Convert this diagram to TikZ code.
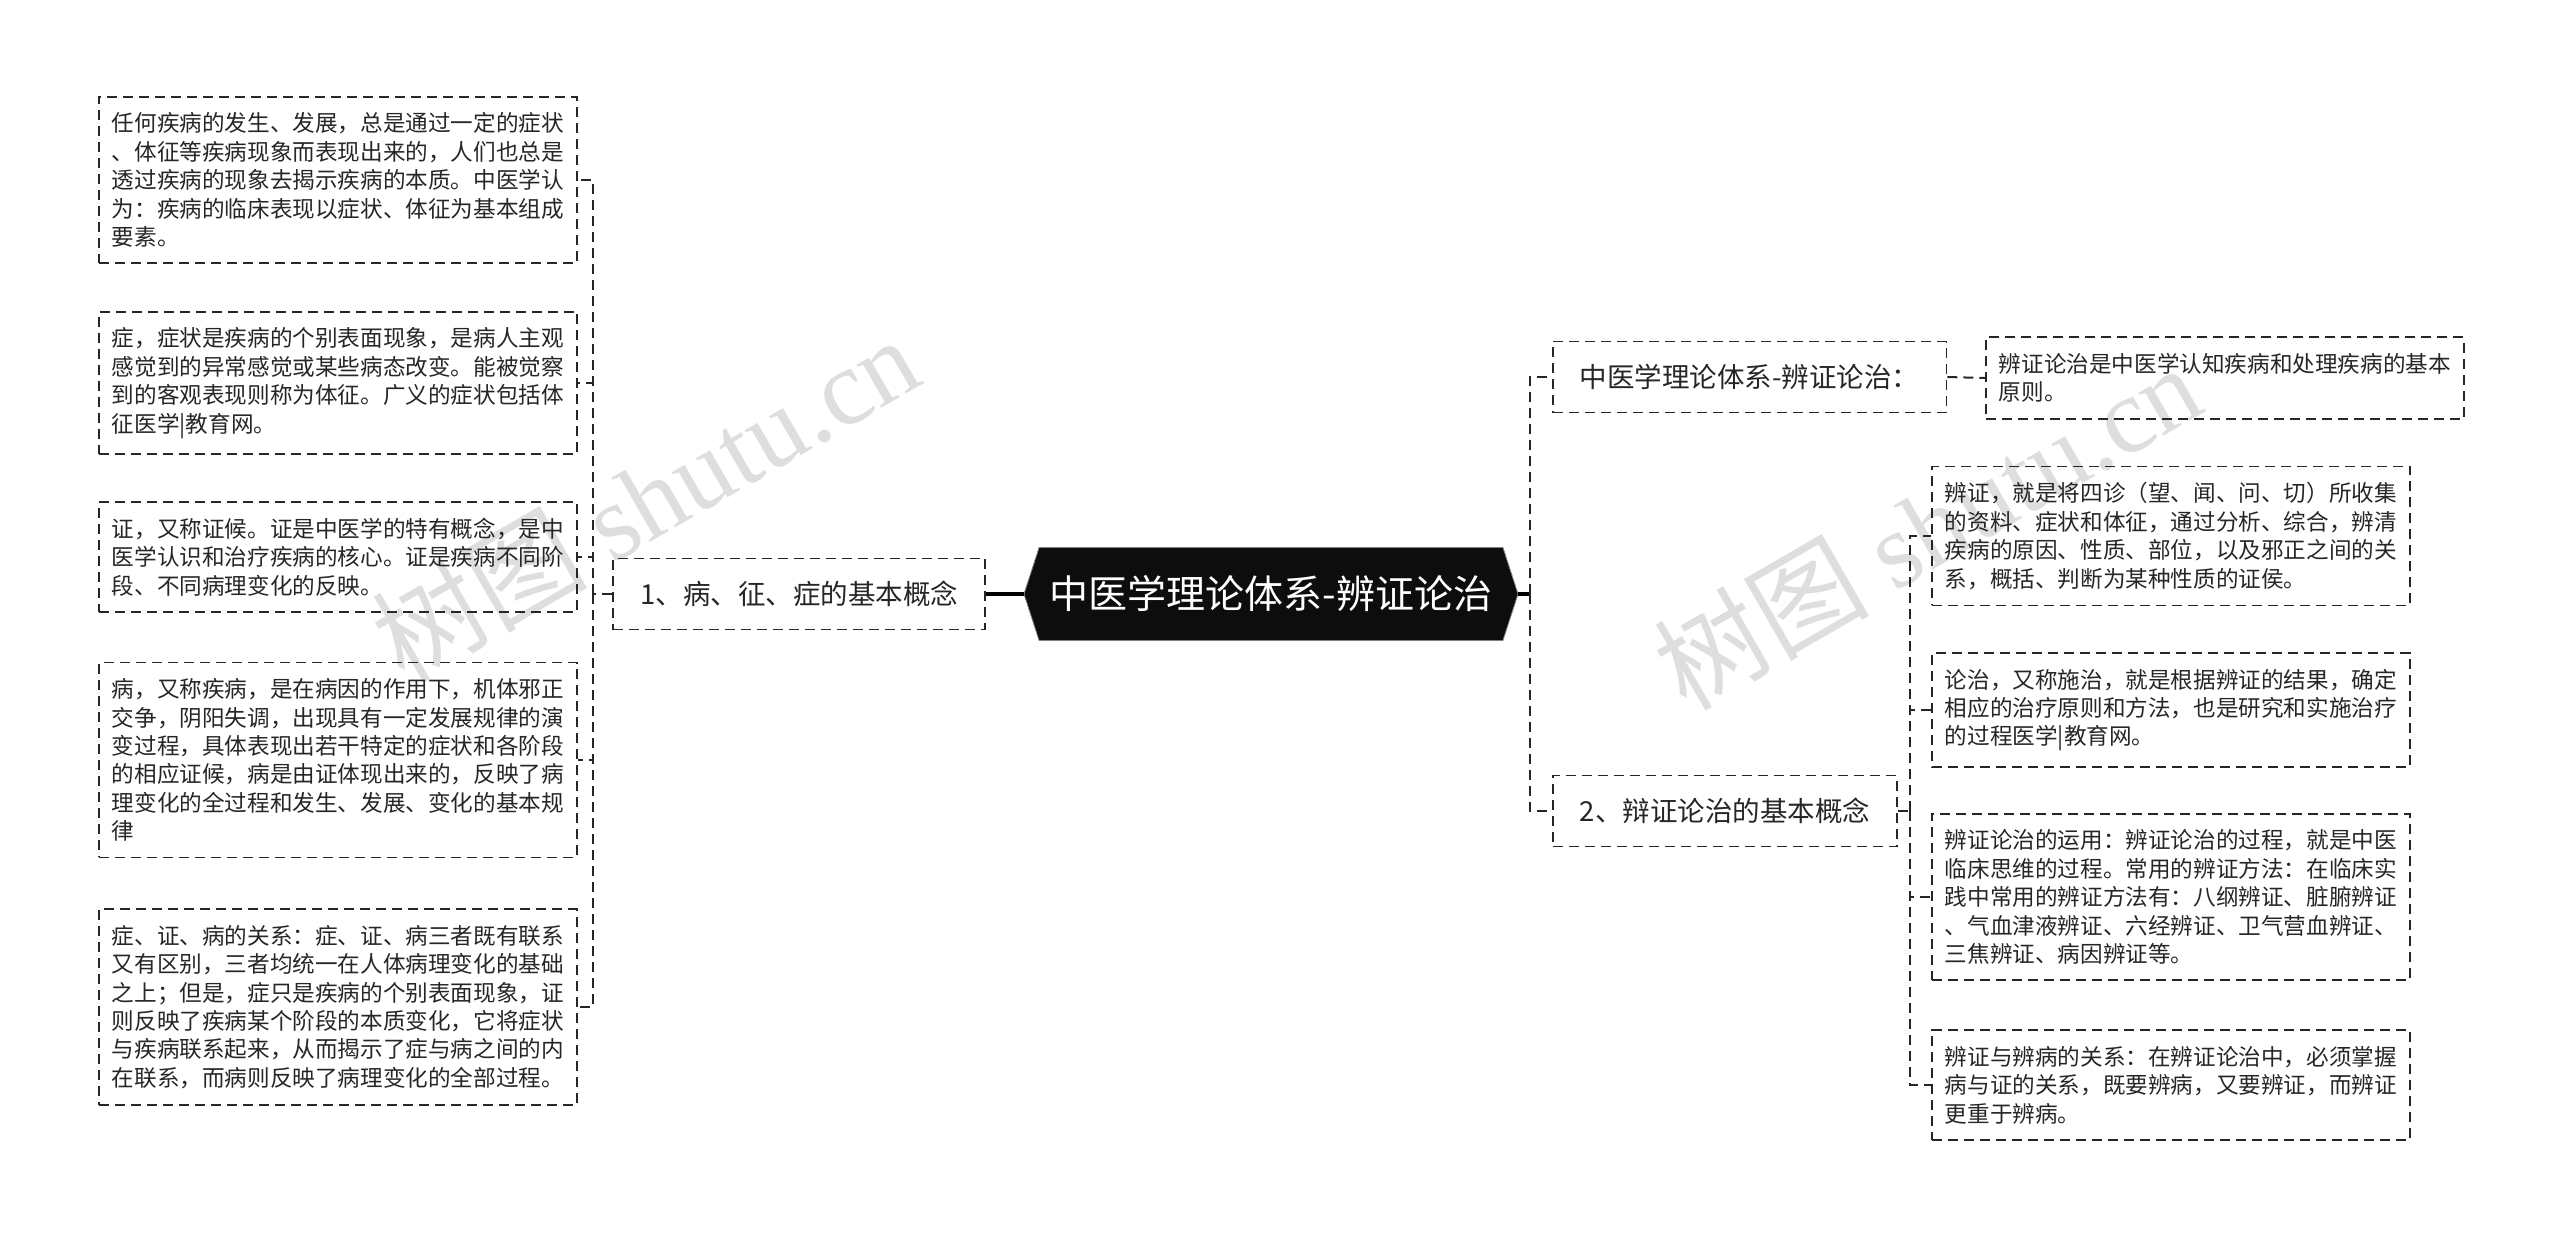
\documentclass[tikz,border=0pt]{standalone}
\usepackage{fontspec}
\setmainfont{Noto Sans CJK SC}
\newfontfamily\wmserif{Liberation Serif}
\usetikzlibrary{shapes.symbols,positioning}

\begin{document}
\begin{tikzpicture}
[x=0.5pt,y=-0.5pt,
 dashpat/.style={dash pattern=on 5pt off 3pt},
 root/.style={signal,signal to=west and east,signal pointer angle=144,fill=black!95,draw=black!50,text=white,minimum width=247pt,minimum height=46.5pt,inner sep=0pt,font=\fontsize{19.5}{23}\selectfont},
 topic/.style={draw=black!85,dashpat,line width=0.9pt,minimum height=35.5pt,inner xsep=13.5pt,text=black!85,font=\fontsize{13.75}{16}\selectfont},
 leaf/.style={draw=black!85,dashpat,line width=0.9pt,text width=226pt,align=left,inner xsep=6.5pt,inner ysep=8pt,text=black!85,font=\fontsize{11.3}{14.2}\selectfont},
 link/.style={draw=black!85,dashpat,line width=1pt},
 trunk/.style={draw=black,line width=1.6pt},
 wmtext/.style={text=black!13,font=\fontsize{54}{60}\selectfont,rotate=30}]
\useasboundingbox (0,0) rectangle (2560,1239);

\node[wmtext] (wm1) at (645,498) {树图 {\wmserif shutu.cn}};
\node[wmtext] (wm2) at (1927,526) {树图 {\wmserif shutu.cn}};

\node[root] (root) at (1271,594) {中医学理论体系-辨证论治};

\node[topic,anchor=east] (topicL) at (986,594) {1、病、征、症的基本概念};
\node[topic,anchor=west] (topicA) at (1552,377) {中医学理论体系-辨证论治：};
\node[topic,anchor=west] (topicB) at (1552,811) {2、辩证论治的基本概念};

\node[leaf,anchor=west] (l1) at (98,180) {任何疾病的发生、发展，总是通过一定的症状\\、体征等疾病现象而表现出来的，人们也总是\\透过疾病的现象去揭示疾病的本质。中医学认\\为：疾病的临床表现以症状、体征为基本组成\\要素。};
\node[leaf,anchor=west] (l2) at (98,383) {症，症状是疾病的个别表面现象，是病人主观\\感觉到的异常感觉或某些病态改变。能被觉察\\到的客观表现则称为体征。广义的症状包括体\\征医学|教育网。};
\node[leaf,anchor=west] (l3) at (98,557) {证，又称证候。证是中医学的特有概念，是中\\医学认识和治疗疾病的核心。证是疾病不同阶\\段、不同病理变化的反映。};
\node[leaf,anchor=west] (l4) at (98,760) {病，又称疾病，是在病因的作用下，机体邪正\\交争，阴阳失调，出现具有一定发展规律的演\\变过程，具体表现出若干特定的症状和各阶段\\的相应证候，病是由证体现出来的，反映了病\\理变化的全过程和发生、发展、变化的基本规\\律};
\node[leaf,anchor=west] (l5) at (98,1007) {症、证、病的关系：症、证、病三者既有联系\\又有区别，三者均统一在人体病理变化的基础\\之上；但是，症只是疾病的个别表面现象，证\\则反映了疾病某个阶段的本质变化，它将症状\\与疾病联系起来，从而揭示了症与病之间的内\\在联系，而病则反映了病理变化的全部过程。};

\node[leaf,anchor=west] (r0) at (1985,378) {辨证论治是中医学认知疾病和处理疾病的基本\\原则。};
\node[leaf,anchor=west] (r1) at (1931,536) {辨证，就是将四诊（望、闻、问、切）所收集\\的资料、症状和体征，通过分析、综合，辨清\\疾病的原因、性质、部位，以及邪正之间的关\\系，概括、判断为某种性质的证侯。};
\node[leaf,anchor=west] (r2) at (1931,710) {论治，又称施治，就是根据辨证的结果，确定\\相应的治疗原则和方法，也是研究和实施治疗\\的过程医学|教育网。};
\node[leaf,anchor=west] (r3) at (1931,897) {辨证论治的运用：辨证论治的过程，就是中医\\临床思维的过程。常用的辨证方法：在临床实\\践中常用的辨证方法有：八纲辨证、脏腑辨证\\、气血津液辨证、六经辨证、卫气营血辨证、\\三焦辨证、病因辨证等。};
\node[leaf,anchor=west] (r4) at (1931,1085) {辨证与辨病的关系：在辨证论治中，必须掌握\\病与证的关系，既要辨病，又要辨证，而辨证\\更重于辨病。};

\coordinate (lj) at (593,594);
\coordinate (rj) at (1530,594);
\coordinate (bj) at (1910,811);

\draw [trunk] (root.west) -- (topicL.east);
\draw [link] (topicL.west) -- (lj);
\draw [link] (lj) |- (l1.east);
\draw [link] (lj) |- (l2.east);
\draw [link] (lj) |- (l3.east);
\draw [link] (lj) |- (l4.east);
\draw [link] (lj) |- (l5.east);

\draw [trunk] (root.east) -- (rj);
\draw [link] (rj) |- (topicA.west);
\draw [link] (rj) |- (topicB.west);
\draw [link] (topicA.east) -- (r0.west);
\draw [link] (topicB.east) -- (bj);
\draw [link] (bj) |- (r1.west);
\draw [link] (bj) |- (r2.west);
\draw [link] (bj) |- (r3.west);
\draw [link] (bj) |- (r4.west);
\end{tikzpicture}
\end{document}
